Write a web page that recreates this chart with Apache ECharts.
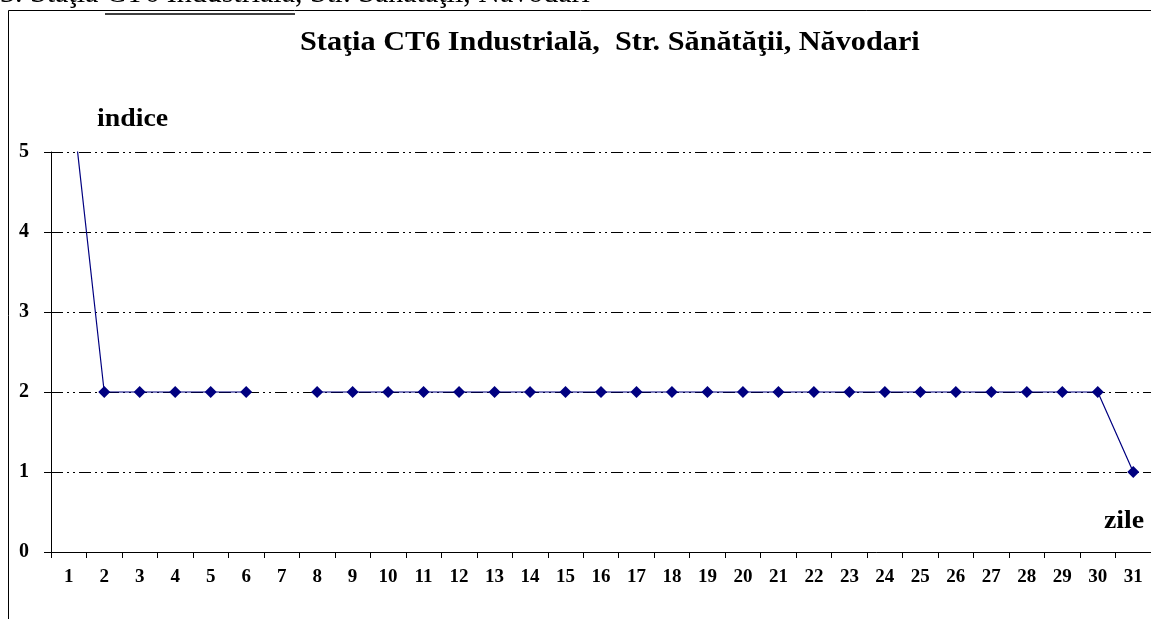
<!DOCTYPE html>
<html>
<head>
<meta charset="utf-8">
<script src="https://cdn.jsdelivr.net/npm/echarts@6/dist/echarts.min.js"></script>
<style>
  html, body { margin: 0; padding: 0; background: #fff; }
  #chart { width: 1151px; height: 619px; }
</style>
</head>
<body>
<div id="chart"></div>
<script>
var chart = echarts.init(document.getElementById('chart'), null, { renderer: 'canvas' });

// zilele lunii
var days = ['1','2','3','4','5','6','7','8','9','10','11','12','13','14','15','16',
            '17','18','19','20','21','22','23','24','25','26','27','28','29','30','31'];
// indicele zilnic (ziua 1 iese din grafic, ziua 7 lipseste)
var indice = [6, 2, 2, 2, 2, 2, null, 2, 2, 2, 2, 2, 2, 2, 2, 2,
              2, 2, 2, 2, 2, 2, 2, 2, 2, 2, 2, 2, 2, 2, 1];
var yTicks = [0, 1, 2, 3, 4, 5];

var serif = '"Liberation Serif", "DejaVu Serif", serif';

chart.setOption({
    animation: false,
    backgroundColor: '#fff',
    graphic: [
        {
            type: 'rect',
            shape: { x: 8.5, y: 10.5, width: 1160, height: 640 },
            style: { fill: 'none', stroke: '#000', lineWidth: 1 },
            silent: true
        },
        // randul de text de deasupra (taiat sus)
        {
            type: 'text',
            x: 0, y: 9,
            style: {
                text: '3. Staţia CT6 Industrială, Str. Sănătăţii, Năvodari',
                font: '30px ' + serif, fill: '#000', verticalAlign: 'bottom'
            }
        },
        {
            type: 'line',
            shape: { x1: 105, y1: 14, x2: 295, y2: 14 },
            style: { stroke: '#000', lineWidth: 1.5 }
        },
        {
            type: 'text',
            x: 300, y: 29,
            scaleX: 1.08,
            style: {
                text: 'Staţia CT6 Industrială,  Str. Sănătăţii, Năvodari',
                font: 'bold 28px ' + serif, fill: '#000'
            }
        },
        {
            type: 'text',
            x: 97, y: 106,
            scaleX: 1.07,
            style: { text: 'indice', font: 'bold 26px ' + serif, fill: '#000' }
        },
        {
            type: 'text',
            x: 1104, y: 508,
            scaleX: 1.07,
            style: { text: 'zile', font: 'bold 26px ' + serif, fill: '#000' }
        }
    ],
    grid: { left: 51, top: 152, width: 1104, bottom: 67, containLabel: false },
    xAxis: {
        type: 'category',
        data: days,
        boundaryGap: true,
        axisLine: { lineStyle: { color: '#000', width: 1 } },
        axisTick: { show: true, length: 6, lineStyle: { color: '#000' }, alignWithLabel: false },
        axisLabel: { color: '#000', fontFamily: serif, fontWeight: 'bold', fontSize: 19, margin: 16, interval: 0 },
        splitLine: { show: false }
    },
    yAxis: {
        type: 'value',
        min: 0, max: 5, interval: 1,
        axisLine: { show: true, lineStyle: { color: '#000', width: 1 } },
        axisTick: { show: true, length: 7, lineStyle: { color: '#000' } },
        axisLabel: {
            color: '#000', fontFamily: serif, fontWeight: 'bold', fontSize: 20, margin: 22,
            formatter: function (v) { return yTicks.indexOf(v) >= 0 ? String(v) : ''; }
        },
        splitLine: {
            show: true,
            lineStyle: { color: '#000', width: 1, type: [12, 4, 2, 4, 2, 4] }
        }
    },
    series: [{
        type: 'line',
        data: indice,
        connectNulls: false,
        clip: true,
        symbol: 'diamond',
        symbolSize: 12,
        showAllSymbol: true,
        lineStyle: { color: '#000080', width: 1.2 },
        itemStyle: { color: '#000080' }
    }]
});
</script>
</body>
</html>
